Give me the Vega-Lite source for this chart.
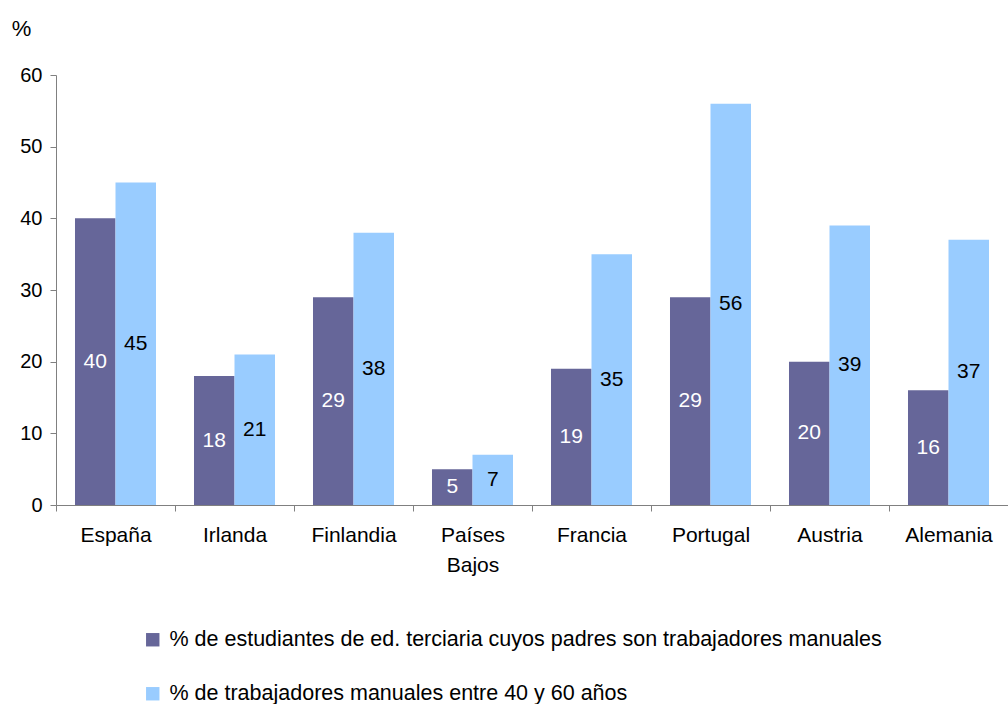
{
  "$schema": "https://vega.github.io/schema/vega-lite/v6.json",
  "width": 952,
  "height": 430,
  "autosize": "none",
  "padding": {"left": 56, "top": 75, "right": 0, "bottom": 199},
  "background": "white",
  "config": {
    "view": {"stroke": null},
    "font": "Liberation Sans",
    "axis": {"labelFont": "Liberation Sans", "titleFont": "Liberation Sans"},
    "legend": {"labelFont": "Liberation Sans"}
  },
  "data": {
    "values": [
      {"pais": "España", "serie": "% de estudiantes de ed. terciaria cuyos padres son trabajadores manuales", "valor": 40},
      {"pais": "España", "serie": "% de trabajadores manuales entre 40 y 60 años", "valor": 45},
      {"pais": "Irlanda", "serie": "% de estudiantes de ed. terciaria cuyos padres son trabajadores manuales", "valor": 18},
      {"pais": "Irlanda", "serie": "% de trabajadores manuales entre 40 y 60 años", "valor": 21},
      {"pais": "Finlandia", "serie": "% de estudiantes de ed. terciaria cuyos padres son trabajadores manuales", "valor": 29},
      {"pais": "Finlandia", "serie": "% de trabajadores manuales entre 40 y 60 años", "valor": 38},
      {"pais": "Países Bajos", "serie": "% de estudiantes de ed. terciaria cuyos padres son trabajadores manuales", "valor": 5},
      {"pais": "Países Bajos", "serie": "% de trabajadores manuales entre 40 y 60 años", "valor": 7},
      {"pais": "Francia", "serie": "% de estudiantes de ed. terciaria cuyos padres son trabajadores manuales", "valor": 19},
      {"pais": "Francia", "serie": "% de trabajadores manuales entre 40 y 60 años", "valor": 35},
      {"pais": "Portugal", "serie": "% de estudiantes de ed. terciaria cuyos padres son trabajadores manuales", "valor": 29},
      {"pais": "Portugal", "serie": "% de trabajadores manuales entre 40 y 60 años", "valor": 56},
      {"pais": "Austria", "serie": "% de estudiantes de ed. terciaria cuyos padres son trabajadores manuales", "valor": 20},
      {"pais": "Austria", "serie": "% de trabajadores manuales entre 40 y 60 años", "valor": 39},
      {"pais": "Alemania", "serie": "% de estudiantes de ed. terciaria cuyos padres son trabajadores manuales", "valor": 16},
      {"pais": "Alemania", "serie": "% de trabajadores manuales entre 40 y 60 años", "valor": 37}
    ]
  },
  "encoding": {
    "x": {
      "field": "pais",
      "type": "nominal",
      "sort": null,
      "scale": {"paddingInner": 0, "paddingOuter": 0},
      "axis": {
        "title": null,
        "labelAngle": 0,
        "labelFontSize": 21,
        "labelColor": "black",
        "labelPadding": 13,
        "domainColor": "#808080",
        "tickColor": "#808080",
        "tickSize": 6,
        "tickBand": "extent",
        "labelExpr": "datum.value == 'Países Bajos' ? ['Países', 'Bajos'] : datum.label",
        "labelLineHeight": 30
      }
    },
    "xOffset": {
      "field": "serie",
      "type": "nominal",
      "sort": null,
      "scale": {"paddingInner": 0, "paddingOuter": 0.469}
    }
  },
  "layer": [
    {
      "mark": {"type": "bar"},
      "encoding": {
        "y": {
          "field": "valor",
          "type": "quantitative",
          "scale": {"domain": [0, 60], "nice": false},
          "axis": {
            "values": [0, 10, 20, 30, 40, 50, 60],
            "grid": false,
            "labelFontSize": 20,
            "labelColor": "black",
            "labelPadding": 8,
            "domainColor": "#808080",
            "tickColor": "#808080",
            "tickSize": 6,
            "title": "%",
            "titleAngle": 0,
            "titleFontSize": 22,
            "titleFontWeight": "normal",
            "titleColor": "black",
            "titleAlign": "center",
            "titleBaseline": "middle",
            "titleX": -35,
            "titleY": -47
          }
        },
        "color": {
          "field": "serie",
          "type": "nominal",
          "sort": null,
          "scale": {
            "domain": ["% de estudiantes de ed. terciaria cuyos padres son trabajadores manuales", "% de trabajadores manuales entre 40 y 60 años"],
            "range": ["#666699", "#99CCFF"]
          },
          "legend": {
            "title": null,
            "orient": "none",
            "legendX": 86,
            "legendY": 554,
            "direction": "vertical",
            "symbolType": "square",
            "symbolSize": 180,
            "symbolStrokeWidth": 0,
            "symbolOpacity": 1,
            "labelFontSize": 21.5,
            "labelColor": "black",
            "labelLimit": 900,
            "labelOffset": 6,
            "rowPadding": 31
          }
        }
      }
    },
    {
      "mark": {"type": "text", "fontSize": 21, "baseline": "middle", "align": "center"},
      "encoding": {
        "y": {"field": "valor", "type": "quantitative", "scale": {"domain": [0, 120], "nice": false}, "axis": null},
        "text": {"field": "valor", "type": "quantitative"},
        "color": {
          "condition": {"test": "datum.serie == '% de trabajadores manuales entre 40 y 60 años'", "value": "black"},
          "value": "white"
        }
      }
    }
  ],
  "resolve": {"scale": {"y": "independent"}}
}
